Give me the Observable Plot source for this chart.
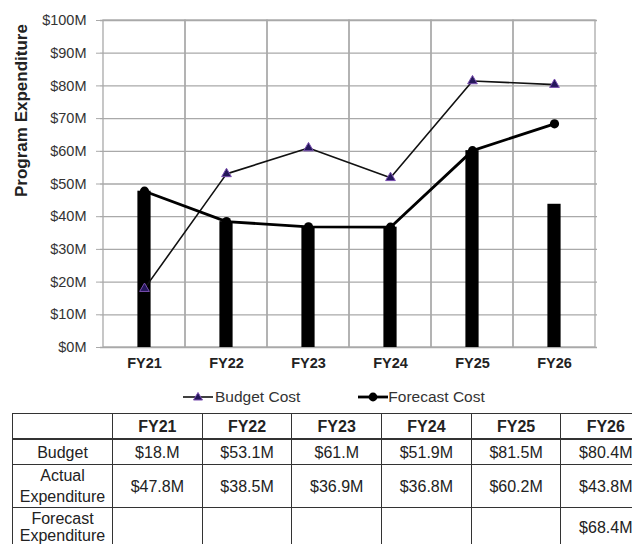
<!DOCTYPE html>
<html><head><meta charset="utf-8">
<script src="https://cdn.jsdelivr.net/npm/d3@7"></script>
<script src="https://cdn.jsdelivr.net/npm/@observablehq/plot@0.6"></script>
<style>
html,body{margin:0;padding:0;background:#fff;}
body{width:632px;height:544px;overflow:hidden;position:relative;font-family:"Liberation Sans",Arial,sans-serif;color:#222;}
#chart{position:absolute;left:0;top:0;}
#legend{position:absolute;left:183px;top:386px;height:22px;display:flex;align-items:center;font-size:15.5px;color:#333;}
#legend .item{display:flex;align-items:center;}
#legend svg{display:block;}
#tbl{position:absolute;left:12px;top:413px;border-collapse:collapse;table-layout:fixed;font-size:16px;color:#222;}
#tbl td,#tbl th{border:1.5px solid #333;text-align:center;vertical-align:middle;padding:0;line-height:21px;}
#tbl th{font-weight:bold;height:24px;}
#tbl tr.r1 td{height:24px;}
#tbl tr.r2 td{height:41px;}
#tbl tr.r3 td{height:37px;vertical-align:top;line-height:17px;padding-top:2px;}
#tbl tr.r3 td.v{line-height:21px;padding-top:9px;}
#tbl thead tr th{border-bottom:2.5px solid #333;}
</style></head><body>
<div id="chart"></div>
<div id="legend"></div>
<table id="tbl"></table>
<script>
const years = ["FY21", "FY22", "FY23", "FY24", "FY25", "FY26"];
const budgetCost = [18, 53.1, 61, 51.9, 81.5, 80.4];
const actualExpenditure = [47.8, 38.5, 36.9, 36.8, 60.2, 43.8];
const forecastCost = [47.8, 38.5, 36.9, 36.8, 60.2, 68.4];
const forecastExpenditure = [null, null, null, null, null, 68.4];
const yTicks = [0, 10, 20, 30, 40, 50, 60, 70, 80, 90, 100];
const yLabel = "Program Expenditure";
const seriesNames = ["Budget Cost", "Forecast Cost"];
const rowNames = ["Budget", "Actual\nExpenditure", "Forecast\nExpenditure"];

const rows = years.map((yr, i) => ({
  year: yr, budget: budgetCost[i], actual: actualExpenditure[i], forecast: forecastCost[i]
}));

const grid = "#a9a9a9";
const chart = Plot.plot({
  width: 632, height: 375,
  marginTop: 20, marginBottom: 28, marginLeft: 100, marginRight: 35,
  style: {fontFamily: "'Liberation Sans', Arial, sans-serif", background: "#fff"},
  x: {type: "band", domain: years, padding: 0},
  y: {domain: [0, 100]},
  marks: [
    Plot.ruleY(yTicks, {stroke: grid, strokeWidth: 1.3}),
    Plot.barY(years, {x: d => d, y1: 0, y2: 100, fill: "none", stroke: grid, strokeWidth: 1.3, inset: 0}),
    Plot.axisY(yTicks, {tickFormat: d => `$${d}M`, tickSize: 4, tickPadding: 10, stroke: grid, fill: "#333", fontSize: 14.5, label: null}),
    Plot.axisX({tickSize: 0, tickPadding: 10.5, fontSize: 14.5, fontWeight: "bold", fill: "#222", label: null}),
    Plot.text([yLabel], {frameAnchor: "left", dx: -79, dy: 13, rotate: -90, fontSize: 17, fontWeight: "bold", fill: "#222"}),
    Plot.barY(rows, {x: "year", y: "actual", fill: "#000", insetLeft: 34.4, insetRight: 34.4}),
    Plot.line(rows, {x: "year", y: "budget", stroke: "#111", strokeWidth: 1.6}),
    Plot.dot(rows, {x: "year", y: "budget", symbol: "triangle", r: 3.6, fill: "#24175a", stroke: "#7a4fb0", strokeWidth: 1}),
    Plot.line(rows, {x: "year", y: "forecast", stroke: "#000", strokeWidth: 2.8}),
    Plot.dot(rows, {x: "year", y: "forecast", r: 4.6, fill: "#000", stroke: "none"})
  ]
});
document.getElementById("chart").appendChild(chart);

// Legend
const legend = document.getElementById("legend");
legend.innerHTML = `
  <div class="item"><svg width="32" height="14"><line x1="0" y1="7" x2="30" y2="7" stroke="#111" stroke-width="1.6"/><path d="M15,2.5 L19.5,10 L10.5,10 Z" fill="#24175a" stroke="#7a4fb0" stroke-width="1"/></svg><span>${seriesNames[0]}</span></div>
  <div class="item" style="margin-left:58px"><svg width="30" height="14"><line x1="0" y1="7" x2="30" y2="7" stroke="#000" stroke-width="2.8"/><circle cx="15" cy="7" r="4.4" fill="#000"/></svg><span>${seriesNames[1]}</span></div>`;

// Table
const fmt = v => v == null ? "" : (Number.isInteger(v) ? `$${v}.M` : `$${v}M`);
const tbl = document.getElementById("tbl");
const colW = [100, 89.7, 89.7, 89.7, 89.7, 89.7, 89.7];
let html = "<colgroup>" + colW.map(w => `<col style="width:${w}px">`).join("") + "</colgroup>";
html += "<thead><tr><th></th>" + years.map(y => `<th>${y}</th>`).join("") + "</tr></thead><tbody>";
const tableRows = [budgetCost, actualExpenditure, forecastExpenditure];
tableRows.forEach((vals, r) => {
  html += `<tr class="r${r + 1}"><td>${rowNames[r].replace("\n", "<br>")}</td>` + vals.map(v => `<td class="v">${fmt(v)}</td>`).join("") + "</tr>";
});
html += "</tbody>";
tbl.innerHTML = html;
tbl.style.width = colW.reduce((a, b) => a + b, 0) + "px";
</script>
</body></html>
